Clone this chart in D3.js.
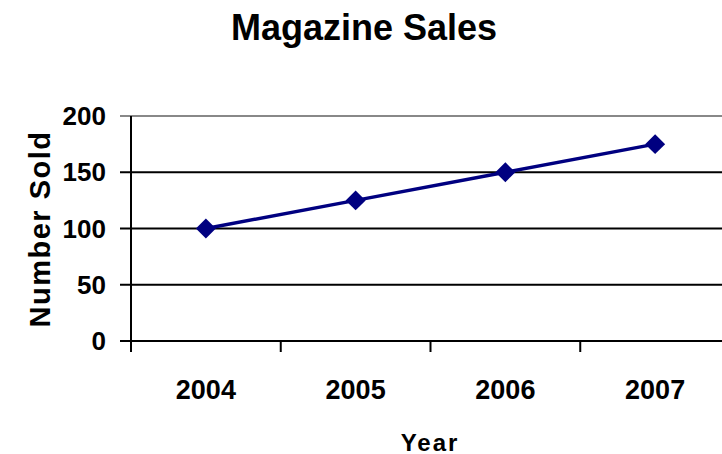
<!DOCTYPE html>
<html lang="en">
<head>
    <meta charset="UTF-8">
    <title>Magazine Sales</title>
    <script src="https://cdn.jsdelivr.net/npm/d3@7"></script>
    <style>
        body { margin: 0; background: #fff; }
        text { font-family: Arial, "Liberation Sans", sans-serif; font-weight: bold; }
    </style>
</head>
<body>
    <svg width="722" height="454" id="mainsvg"></svg>
    <script>
        const years = ['2004', '2005', '2006', '2007'];
        const sold = [100, 125, 150, 175];
        const yTicks = [0, 50, 100, 150, 200];

        const svg = d3.select('#mainsvg');
        const margin = { top: 116, right: -8, bottom: 113, left: 131 };
        const width = +svg.attr('width');
        const height = +svg.attr('height');
        const innerWidth = width - margin.left - margin.right;
        const innerHeight = height - margin.top - margin.bottom;

        const g = svg.append('g')
            .attr('transform', `translate(${margin.left},${margin.top})`);

        const x = d3.scaleBand().domain(years).range([0, innerWidth]);
        const y = d3.scaleLinear().domain([0, 200]).range([innerHeight, 0]);

        // gridlines (top one is grey like the plot border)
        g.selectAll('.grid').data(yTicks).join('line')
            .attr('class', 'grid')
            .attr('x1', -11).attr('x2', innerWidth - 2)
            .attr('y1', d => y(d)).attr('y2', d => y(d))
            .attr('stroke', d => d === 200 ? '#888' : '#000')
            .attr('stroke-width', 2);

        // y axis line
        g.append('line')
            .attr('x1', 0).attr('x2', 0)
            .attr('y1', 0).attr('y2', innerHeight + 11)
            .attr('stroke', '#000').attr('stroke-width', 2);

        // x ticks between categories
        g.selectAll('.xtick').data(years.slice(1)).join('line')
            .attr('class', 'xtick')
            .attr('x1', d => x(d)).attr('x2', d => x(d))
            .attr('y1', innerHeight).attr('y2', innerHeight + 11)
            .attr('stroke', '#000').attr('stroke-width', 2);

        // y labels
        g.selectAll('.ylab').data(yTicks).join('text')
            .attr('class', 'ylab')
            .attr('x', -25).attr('y', d => y(d))
            .attr('dy', '0.35em')
            .attr('text-anchor', 'end')
            .attr('font-size', 26)
            .text(d => d);

        // x labels
        g.selectAll('.xlab').data(years).join('text')
            .attr('class', 'xlab')
            .attr('x', d => x(d) + x.bandwidth() / 2)
            .attr('y', innerHeight + 58)
            .attr('text-anchor', 'middle')
            .attr('font-size', 27)
            .text(d => d);

        // line
        const line = d3.line()
            .x((d, i) => x(years[i]) + x.bandwidth() / 2)
            .y(d => y(d));

        g.append('path').datum(sold)
            .attr('d', line)
            .attr('fill', 'none')
            .attr('stroke', '#000080')
            .attr('stroke-width', 3.5);

        g.selectAll('.pt').data(sold).join('path')
            .attr('class', 'pt')
            .attr('d', d3.symbol(d3.symbolSquare, 200))
            .attr('transform', (d, i) => `translate(${x(years[i]) + x.bandwidth() / 2},${y(d)}) rotate(45)`)
            .attr('fill', '#000080');

        // title
        svg.append('text')
            .attr('x', 364).attr('y', 40)
            .attr('text-anchor', 'middle')
            .attr('font-size', 36)
            .text('Magazine Sales');

        // axis titles
        svg.append('text')
            .attr('x', 430).attr('y', 451)
            .attr('text-anchor', 'middle')
            .attr('font-size', 24)
            .attr('letter-spacing', 2)
            .text('Year');

        svg.append('text')
            .attr('transform', 'translate(50,229) rotate(-90)')
            .attr('text-anchor', 'middle')
            .attr('font-size', 29)
            .attr('letter-spacing', 1.5)
            .text('Number Sold');
    </script>
</body>
</html>
